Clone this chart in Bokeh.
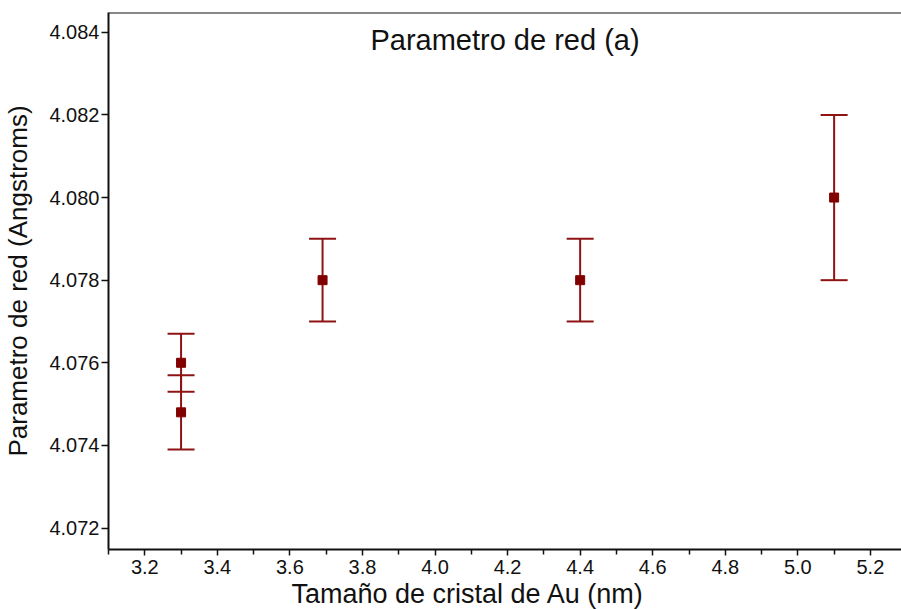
from bokeh.plotting import figure
from bokeh.models import (ColumnDataSource, Whisker, TeeHead, Range1d, FixedTicker,
                          PrintfTickFormatter, Label, Span, Title)
from bokeh.embed import file_html
from bokeh.resources import INLINE

# ---- data ----
size_nm = [3.3, 3.3, 3.69, 4.4, 5.1]
lattice_a = [4.0760, 4.0748, 4.0780, 4.0780, 4.0800]
lattice_err = [0.0007, 0.0009, 0.0010, 0.0010, 0.0020]

x_ticks = [3.2, 3.4, 3.6, 3.8, 4.0, 4.2, 4.4, 4.6, 4.8, 5.0, 5.2]
x_minor = [3.1, 3.3, 3.5, 3.7, 3.9, 4.1, 4.3, 4.5, 4.7, 4.9, 5.1, 5.3]
y_ticks = [4.072, 4.074, 4.076, 4.078, 4.080, 4.082, 4.084]

x_lo, x_hi = 3.1, 5.2857
y_lo, y_hi = 4.07148, 4.08448

title_text = "Parametro de red (a)"
x_label = "Tamaño de cristal de Au (nm)"
y_label = "Parametro de red (Angstroms)"

FONT = "Liberation Sans"
RED = "#800000"
LINE_RED = "#8e1414"
INK = "#111111"

src = ColumnDataSource(dict(
    x=size_nm, y=lattice_a,
    lower=[v - e for v, e in zip(lattice_a, lattice_err)],
    upper=[v + e for v, e in zip(lattice_a, lattice_err)],
))

p = figure(width=901, height=609, output_backend="svg", toolbar_location=None,
           x_range=Range1d(x_lo, x_hi), y_range=Range1d(y_lo, y_hi),
           min_border_left=108, min_border_right=0, min_border_top=12,
           min_border_bottom=60)
p.outline_line_color = None
p.grid.visible = False
p.background_fill_color = "white"
p.border_fill_color = "white"

# top border line of the frame
p.add_layout(Span(location=y_hi, dimension="width", line_color=INK, line_width=2))

wh = Whisker(source=src, base="x", lower="lower", upper="upper",
             line_color=LINE_RED, line_width=2,
             upper_head=TeeHead(size=27, line_color=LINE_RED, line_width=2),
             lower_head=TeeHead(size=27, line_color=LINE_RED, line_width=2))
p.add_layout(wh)
p.scatter("x", "y", source=src, marker="square", size=9,
          fill_color=RED, line_color=RED)

# axes
xa = p.xaxis[0]
xa.ticker = FixedTicker(ticks=x_ticks, minor_ticks=x_minor)
xa.formatter = PrintfTickFormatter(format="%.1f")
ya = p.yaxis[0]
ya.ticker = FixedTicker(ticks=y_ticks, minor_ticks=[])
ya.formatter = PrintfTickFormatter(format="%.3f")
ya.axis_label = y_label

for ax in (xa, ya):
    ax.axis_line_color = INK
    ax.axis_line_width = 2
    ax.major_tick_line_color = INK
    ax.major_tick_line_width = 1.5
    ax.minor_tick_line_color = INK
    ax.minor_tick_line_width = 1.5
    ax.major_tick_in = 0
    ax.minor_tick_in = 0
    ax.major_label_text_font = FONT
    ax.major_label_text_font_size = "20px"
    ax.major_label_text_color = INK
    ax.axis_label_text_font = FONT
    ax.axis_label_text_font_size = "26px"
    ax.axis_label_text_font_style = "normal"
    ax.axis_label_text_color = INK

xa.major_tick_out = 6
xa.minor_tick_out = 5
xa.major_label_standoff = 4
ya.major_tick_out = 7
ya.minor_tick_out = 0
ya.major_label_standoff = 2
ya.axis_label_standoff = 13

# x-axis title, set somewhat left of the frame centre as in the original
p.add_layout(Title(text=x_label, align="left", offset=183, standoff=0,
                   text_font=FONT, text_font_size="27px", text_font_style="normal",
                   text_color=INK), "below")

p.add_layout(Label(x=(x_lo + x_hi) / 2, y=y_hi, y_offset=-27, text=title_text,
                   text_align="center", text_baseline="alphabetic",
                   text_font=FONT, text_font_size="29px", text_color=INK))

open("out.html", "w").write(file_html(p, INLINE))
